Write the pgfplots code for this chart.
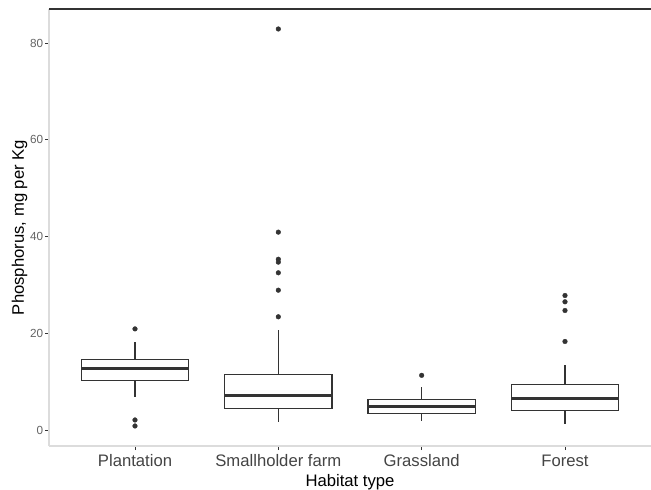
\documentclass[border=0pt]{standalone}
\usepackage{pgfplots}
\pgfplotsset{compat=1.18}
\usepgfplotslibrary{statistics}
\usepackage{fontspec}
\setmainfont{Liberation Sans}

\definecolor{ink}{RGB}{51,51,51}
\definecolor{ticktext}{RGB}{100,100,100}
\definecolor{xtext}{RGB}{68,68,68}
\definecolor{frame}{RGB}{220,220,220}

\pgfplotsset{
  habitatbox/.style={
    draw=ink, fill=white, line width=0.95pt,
    mark=*, mark size=1.75pt,
    mark options={draw=ink, fill=ink, line width=0.3pt},
    boxplot/draw direction=y,
    boxplot/box extend=0.75,
    boxplot/whisker extend=0,
    boxplot/every median/.style={line width=2.1pt},
  },
}

\begin{document}
\begin{tikzpicture}
% page frame: 651 x 490 px at 0.75pt per px, plot panel at the origin
\useasboundingbox (-36.75pt,-33pt) rectangle (451.5pt,334.5pt);
\begin{axis}[
  scale only axis,
  width=451.5pt, height=327.75pt,
  xmin=0.4, xmax=4.6,
  ymin=-3.31, ymax=87.03,
  clip=false,
  axis line style={draw=none},
  xtick={1,2,3,4},
  xticklabels={Plantation, Smallholder farm, Grassland, Forest},
  ytick={0,20,40,60,80},
  xtick pos=bottom, ytick pos=left,
  tick align=outside,
  major tick length=3pt,
  every tick/.style={draw=ink, line width=0.5pt},
  /pgf/number format/assume math mode=true,
  yticklabel style={font=\fontsize{8.8}{10}\selectfont, text=ticktext, inner sep=1.2pt},
  xticklabel style={font=\fontsize{12.5}{14}\selectfont, text=xtext},
  xlabel={Habitat type},
  ylabel={Phosphorus, mg per Kg},
  every axis x label/.style={at={([yshift=-30pt]rel axis cs:0.5,0)}, anchor=base,
    font=\fontsize{12.5}{14}\selectfont, text=black},
  every axis y label/.style={at={([xshift=-18.75pt]rel axis cs:0,0.5)}, rotate=90, anchor=base,
    font=\fontsize{12.5}{14}\selectfont, text=black},
]
% panel edges
\draw[frame, line width=0.8pt] (rel axis cs:0,0) -- (rel axis cs:0,1);
\draw[frame, line width=0.8pt] (rel axis cs:0,0) -- (rel axis cs:1,0);
\draw[ink, line width=1.2pt] (rel axis cs:0,1) -- (rel axis cs:1,1);

% Plantation
\addplot[habitatbox, boxplot prepared={draw position=1,
  lower whisker=6.9, lower quartile=10.3, median=12.7,
  upper quartile=14.5, upper whisker=18.1}]
  table[row sep=\\, y index=0] {v\\ 20.9\\ 2.07\\ 0.83\\};

% Smallholder farm
\addplot[habitatbox, boxplot prepared={draw position=2,
  lower whisker=1.65, lower quartile=4.4, median=7.1,
  upper quartile=11.4, upper whisker=20.7}]
  table[row sep=\\, y index=0] {v\\ 82.9\\ 40.9\\ 35.3\\ 34.7\\ 32.5\\ 28.9\\ 23.4\\};

% Grassland
\addplot[habitatbox, boxplot prepared={draw position=3,
  lower whisker=1.86, lower quartile=3.45, median=4.8,
  upper quartile=6.3, upper whisker=8.95}]
  table[row sep=\\, y index=0] {v\\ 11.3\\};

% Forest
\addplot[habitatbox, boxplot prepared={draw position=4,
  lower whisker=1.24, lower quartile=4.1, median=6.5,
  upper quartile=9.4, upper whisker=13.4}]
  table[row sep=\\, y index=0] {v\\ 27.8\\ 26.5\\ 24.7\\ 18.3\\};
\end{axis}
\end{tikzpicture}
\end{document}
